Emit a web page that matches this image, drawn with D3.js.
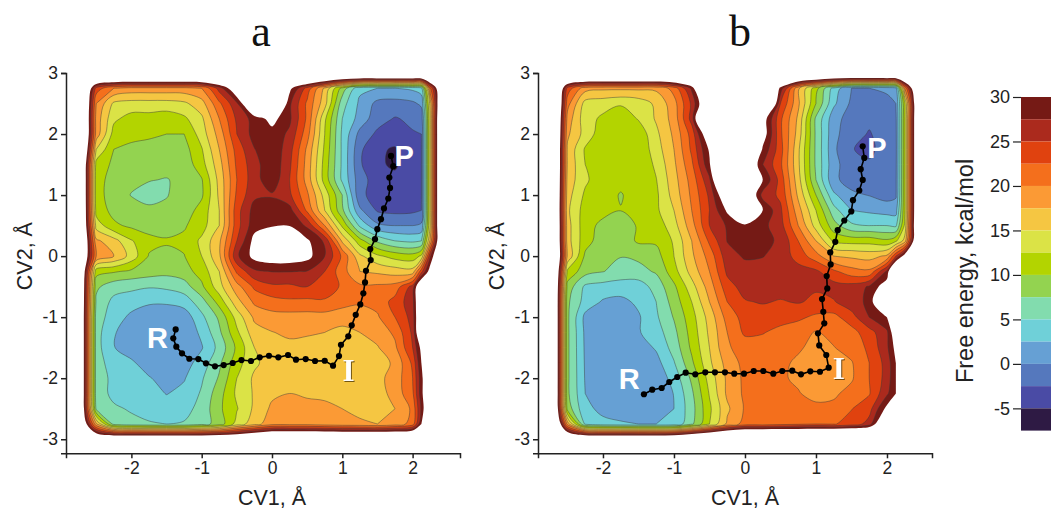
<!DOCTYPE html>
<html><head><meta charset="utf-8">
<script src="https://cdnjs.cloudflare.com/ajax/libs/d3/7.8.5/d3.min.js"></script>
<style>html,body{margin:0;padding:0;background:#fff}svg{display:block}</style></head>
<body><svg id="c" width="1051" height="512"></svg>
<script>
const cvx=[-2.75,-2.5,-2.25,-2,-1.75,-1.5,-1.25,-1,-.75,-.5,-.25,0,.25,.5,.75,1,1.25,1.5,1.75,2,2.125,2.25,2.5];
const cvy=[3,2.75,2.5,2.25,2,1.75,1.5,1.25,1,.75,.5,.25,0,-.25,-.5,-.75,-1,-1.25,-1.5,-1.75,-2,-2.25,-2.5,-2.75,-3];
const levels=[30,27.5,25,22.5,20,17.5,15,12.5,10,7.5,5,2.5,0,-2.5,-5];
const bandColors=["#751a15","#ab2a1d","#e0420f","#f46f1c","#fb9a35","#f5c642","#dbe346","#b3d400","#93d350","#82dcae","#6fd0d8","#66a0d4","#5578bd","#4a4ba5","#2e1a44"];
const energyTicks=[30,25,20,15,10,5,0,-5];
const cvTicksX=[-2,-1,0,1,2];
const cvTicksY=[-3,-2,-1,0,1,2,3];
const gridA=[
[45,45,45,45,45,45,45,45,45,45,45,45,45,45,45,45,45,45,45,45,45,45,45],
[45,24,20,19,19,19,19,20,26,34,45,45,31,24,17,9,3,2.5,2.5,3,4,22,45],
[45,20,14.5,14,14,14,14.5,16.5,22,27,37,40,28,22,16,6,2,-.7,-1,-.5,.5,16,50],
[45,19,13,11.5,11.5,11,12,14.5,20,25.5,28.5,31,28,22,13,5,1.5,-1.5,-2.7,-2,-1.5,15,53],
[45,19,11.5,11,10.5,10,10,13.7,18.5,25,28.5,29,27,21,12.5,4.5,-.8,-3,-4,-2.7,-2.5,15,53],
[45,15,10,9.2,9,9,9,12.3,17.5,23.5,27.4,29.5,26,19.5,12,4.5,-2,-4.7,-5.2,-2.8,-2.6,15,53],
[43,11.5,9.5,8.5,8.3,8.2,8.4,11.5,16.5,23,26.5,29.5,25.5,19,11.5,4.5,-2.2,-4.6,-5.4,-3,-2.6,15,53],
[43,11,9,8,7.6,7.4,8,9.8,15.8,22.5,26.5,29.2,25,19,11.5,4.5,-1.5,-3.7,-4.3,-3,-2.6,15,53],
[43,11,8.8,7.4,6.8,7.4,8.3,9.6,15.5,23,27,27.2,25.5,20.5,14,7.5,-2,-3.4,-3.8,-2.8,-2.6,15,53],
[43,11.5,9.2,8.5,7.9,7.9,8.6,11,15,24,28.5,29,28.5,22,15,8,.5,-2.8,-3.2,-3,-2.5,15,53],
[42,14,10.5,9.5,8.9,8.8,9.7,11.5,15,24,29,29.5,29.8,27,20,12,4.5,.5,0,0,.5,15,53],
[42,18,16,12.7,10.8,10.3,10.6,13,17,25,31,36,38,30.5,27,17,11,7,5,4.5,5,18,48],
[40,20,17.5,14,9.8,9.3,9.9,12.5,17,27,31,32,32,31,27.5,22,15.5,13,11.5,11,13,27,45],
[40,11,10.3,9.5,8.8,8.3,9,11,15,23,27,27.6,27.6,27.4,25,21,17.5,17,16.3,16,24,32,45],
[40,8,6,5.5,5.2,5.5,6.3,9.5,14,19,23,24.5,24.5,25,24.5,22,20.5,20.5,21,26,36,45,45],
[40,7,4.3,3.8,2.8,2.8,3.6,6.4,11,16.5,20.5,21.5,22,21.8,22,21,20.3,20.8,23.5,26.5,36,45,45],
[40,6,4,1.8,1.2,1,1,4.4,8,13.5,18,19,19,19,19,18.5,18.8,19.7,22.5,26,36,45,45],
[40,6,2.7,1.3,.9,.7,.8,3,7,12,16.5,17.4,18,17.8,17.5,16.8,17.5,18.5,20.5,25.5,36,45,45],
[40,6,2.6,1.3,.8,.7,.9,2.3,5.8,10.5,15,16.5,16.8,16.6,16.2,16,16.6,17.3,19.5,25,31,36,45],
[40,6,3.9,2.9,1.3,.8,1.4,3.6,7,11.5,14.5,16.2,16.1,16,16,16,16,16.2,18,23,30,36,45],
[40,6,4.5,4,2.7,1.5,2.3,4.7,7.8,12.5,15.5,16.2,16,16,16.2,16.1,16.2,16.8,18.5,22.5,29,36,45],
[40,6,4.5,4.2,3.5,2.4,3.2,5.3,9,13,15.3,17,17.5,17,16.5,16.2,16.5,16.3,18.5,22,29,36,45],
[40,7,5.3,4.8,4.2,3.7,4.2,5.8,9.5,12.3,15.5,18,18.4,18.6,18.6,17.5,17,17,17.5,20.5,28,36,45],
[40,18,6.5,5.5,5.2,5,5.2,6.5,8.5,13.5,16.5,19,19,19,18.5,18,17.8,17.5,18.5,21,30,40,45],
[45,38,38,38,38,38,38,38,38,38,40,42,42,42,42,42,42,42,42,42,43,45,45]];
const gridB=[
[45,45,45,45,45,45,45,45,45,45,45,45,45,45,45,45,45,45,45,45,45,45,45],
[48,24,18.5,18,18,18,18,21,28,45,45,45,45,29,18,11,4,0,0,.5,1.5,20,46],
[48,21,14,13.5,12.8,13.5,15.5,19,25.5,36,45,45,45,25,18,10,3,-.5,-1,-.8,0,12,46],
[48,19,13.5,12,10.8,12.7,15.3,18.5,26,45,45,45,32,23,17,7,1,-1.2,-2,-1.2,-.5,12,46],
[48,18,14,11,10.6,10.8,14.4,18,23.5,34,45,45,32,23,16.5,7,.7,-1.5,-2.7,-1.3,-.6,12,46],
[48,17,12.2,10.8,10.5,10.5,13.8,17.5,23,30.5,45,45,29.5,23.5,15.5,7,.5,-2.4,-3,-1.5,-.7,12,46],
[48,17,12.5,10.7,10.4,10.4,13,17,22,29.5,45,36,27.5,23,15.5,7,.8,-1.5,-2.2,-1.3,-.6,12,46],
[48,16.5,13,10.7,10.4,10.5,12.4,16.5,21,27,42,45,30,24,16,7.5,.5,-1,-1.2,-1,-.5,12,46],
[48,16,12,10.6,9.9,10.6,12,16,20.5,25.5,34,36,26.5,24.5,17,10,3,.5,-.1,-1,-.4,12,46],
[48,15.5,11.3,10.8,10.05,10.9,12,15,20,25,30.5,45,30,25.5,18.5,12.5,6,2.5,2,1.5,1.5,12,46],
[48,16,11,9.3,8.5,10.3,11,14,19,25,27.8,28.7,28.2,26,20,14,8.5,5.5,5,5,4.5,13,46],
[48,16,11,8.7,8.5,10.4,10.4,12.8,17.5,23,27.6,28.2,28,27.2,22.5,17.5,12,11.5,11.5,10.5,12,16,45],
[48,17,9.5,8,7.6,8,9,12.5,17,21,26.5,27.8,27.6,26.5,24,21,17.5,17,16.5,18,25,32,45],
[48,12,8.5,7.6,6.5,6.7,7.8,11.5,16,20,25.5,26.5,26.5,26.8,26,25.5,23,21,20.5,28,40,45,45],
[48,9,4.5,4,3.8,3.7,6,9.5,14,18.7,24,26,26,26,26,25.3,26,26,27.8,32,40,45,45],
[48,8,4,2.2,1.8,3,5,8.6,12.5,17.5,22.5,24.8,25.2,24.8,25.2,24.5,24.8,26.5,28,38,42,45,45],
[48,8,1.8,1.3,1,2.2,4.6,7.7,11.5,16,21,23.5,23.8,23.8,23,22,21.7,24,27.5,30,38,45,45],
[48,8,2,1.2,.8,2.3,3.8,6.8,11,15.5,20,23,22.7,21.5,21,19.8,20.7,21.5,24,27,33,45,45],
[48,8,2.1,1.2,.8,1.2,2.8,6,10.5,15,19.7,21,21,20.5,20.3,19.3,19.9,21,23,27,31,38,45],
[48,8,2.2,1.2,.7,.8,1.6,4.8,9.5,14.5,18.5,20.8,20.7,20.5,19.6,18.8,18.5,19.8,22.5,26,30,38,45],
[48,8,2.3,1.3,.7,.4,.7,3.5,8,13.5,18,20.6,20.5,20.4,19.5,18.8,18.5,19.7,22.5,26,30,38,45],
[48,8,2.5,1.6,1,.5,.5,2.6,7,12.7,18,20.5,20.6,20.5,20.2,19,19.6,20.8,22.3,27,30,38,45],
[48,9,3,2,1.7,.8,.6,2.5,6.5,12,17,20.3,20.4,20.6,20.8,20.8,20.6,22.4,24,31,40,45,45],
[48,19,4.5,3,2.7,2.5,2.5,3,7,12.5,18,21,21,21.5,22,22.5,22.3,23.5,26,38,45,45,45],
[48,40,39,39,39,39,39,40,42,44,46,47,47,47,47,47,47,47,47,45,45,45,45]];
const pathAx=[-1.37,-1.404,-1.361,-1.28,-1.176,-1.048,-.939,-.811,-.687,-.559,-.434,-.299,-.175,-.043,.09,.228,.341,.479,.612,.75,.868,.953,.981,1.085,1.134,1.191,1.256,1.299,1.323,1.337,1.404,1.398,1.465,1.498,1.55,1.593,1.654,1.679,1.669,1.725,1.693];
const pathAy=[-1.2,-1.347,-1.484,-1.592,-1.681,-1.686,-1.756,-1.805,-1.784,-1.751,-1.702,-1.718,-1.658,-1.632,-1.658,-1.62,-1.697,-1.686,-1.718,-1.714,-1.795,-1.637,-1.452,-1.314,-1.134,-.961,-.791,-.61,-.43,-.241,-.065,.115,.278,.442,.606,.781,.944,1.118,1.288,1.473,1.642];
const pathBx=[-1.423,-1.306,-1.173,-1.066,-.954,-.835,-.7,-.559,-.423,-.282,-.151,-.014,.123,.258,.399,.525,.666,.789,.92,1.056,1.179,1.145,1.046,1.028,1.117,1.103,1.085,1.159,1.151,1.207,1.201,1.272,1.306,1.399,1.497,1.521,1.61,1.658,1.63,1.68,1.658];
const pathBy=[-2.263,-2.188,-2.16,-2.062,-1.98,-1.91,-1.936,-1.903,-1.903,-1.903,-1.926,-1.926,-1.882,-1.882,-1.926,-1.882,-1.877,-1.936,-1.887,-1.894,-1.828,-1.62,-1.462,-1.265,-1.101,-.912,-.704,-.529,-.327,-.136,.061,.234,.426,.584,.732,.917,1.075,1.249,1.424,1.609,1.8];

const svg=d3.select("#c");
const FONT="'Liberation Sans',Arial,sans-serif";
const SERIF="'Liberation Serif','Times New Roman',serif";
const plain=d=>String(d);
const idxX=d3.scaleLinear().domain(d3.range(cvx.length)).range(cvx);
const idxY=d3.scaleLinear().domain(d3.range(cvy.length)).range(cvy);

function panel(o){
  const x=d3.scaleLinear().domain(o.xDom).range([o.left,o.right]);
  const y=d3.scaleLinear().domain([-3.23,3]).range([453.3,73]);
  const g=svg.append("g");
  const flat=o.grid.flat().map(v=>-v);
  const contours=d3.contours().size([cvx.length,cvy.length]).thresholds(levels.map(l=>-l))(flat);
  const line=d3.line().x(p=>x(idxX(p[0]-.5))).y(p=>y(idxY(p[1]-.5))).curve(d3.curveCatmullRomClosed.alpha(.5));
  contours.forEach((c,i)=>{
    let d="";
    c.coordinates.forEach(poly=>poly.forEach(ring=>{d+=line(ring.slice(0,-1));}));
    g.append("path").attr("d",d).attr("fill",bandColors[i]).attr("fill-rule","evenodd")
      .attr("stroke",i<1?"none":"#3a3a3a").attr("stroke-opacity",.65).attr("stroke-width",.7);
  });
  const pts=o.px.map((v,i)=>[v,o.py[i]]);
  g.append("path").attr("d",d3.line().x(p=>x(p[0])).y(p=>y(p[1]))(pts)).attr("fill","none").attr("stroke","#000").attr("stroke-width",1.6);
  g.selectAll("circle").data(pts).join("circle").attr("cx",p=>x(p[0])).attr("cy",p=>y(p[1])).attr("r",3.1).attr("fill","#000");
  const ax=g.append("g").attr("transform","translate(0,453.3)").call(d3.axisBottom(x).tickValues(cvTicksX).tickFormat(plain).tickSizeOuter(0).tickSize(5));
  const ay=g.append("g").attr("transform",`translate(${o.left},0)`).call(d3.axisLeft(y).tickValues(cvTicksY).tickFormat(plain).tickSizeOuter(0).tickSize(5));
  [ax,ay].forEach(a=>{a.selectAll("text").attr("font-family",FONT).attr("font-size",17.5).attr("fill","#222");a.selectAll("line,path").attr("stroke","#222").attr("stroke-width",1.5);});
  const lab=(t,px,py,size,fam,w,sh)=>g.append("text").text(t).attr("x",px).attr("y",py).attr("text-anchor","middle").attr("font-family",fam).attr("font-size",size).attr("font-weight",w).attr("fill","#fff").style("filter",sh?"drop-shadow(1px 1px 0.5px rgba(60,40,0,.7))":null);
  lab("R",x(o.rPos[0]),y(o.rPos[1]),29,FONT,"bold");
  lab("P",x(o.pPos[0]),y(o.pPos[1]),29,FONT,"bold");
  lab("I",x(o.iPos[0]),y(o.iPos[1]),31,SERIF,"bold",true);
  svg.append("text").text(o.title).attr("x",o.titleX).attr("y",46).attr("text-anchor","middle").attr("font-family",SERIF).attr("font-size",44).attr("fill","#111");
  svg.append("text").text("CV1, Å").attr("x",x(0)).attr("y",505).attr("text-anchor","middle").attr("font-family",FONT).attr("font-size",21.5).attr("fill","#222");
  svg.append("text").text("CV2, Å").attr("transform",`translate(${o.left-34},${y(0)}) rotate(-90)`).attr("text-anchor","middle").attr("font-family",FONT).attr("font-size",21.5).attr("fill","#222");
}
panel({grid:gridA,px:pathAx,py:pathAy,left:66,right:460,xDom:[-2.93,2.674],title:"a",titleX:261,rPos:[-1.63,-1.5],pPos:[1.88,1.47],iPos:[1.09,-2.04]});
panel({grid:gridB,px:pathBx,py:pathBy,left:538,right:932,xDom:[-2.915,2.634],title:"b",titleX:740,rPos:[-1.63,-2.17],pPos:[1.86,1.6],iPos:[1.32,-2.02]});

// colour bar
const cy=d3.scaleLinear().domain([-7.5,30]).range([430.6,97]);
levels.forEach((t,i)=>{
  svg.append("rect").attr("x",1021).attr("width",30).attr("y",cy(t)).attr("height",cy(t-2.5)-cy(t)).attr("fill",bandColors[i]);
});
const cax=svg.append("g").attr("transform","translate(1021,0)").call(d3.axisLeft(cy).tickValues(energyTicks).tickFormat(plain).tickSizeOuter(0).tickSize(8));
cax.select(".domain").remove();
cax.selectAll("text").attr("font-family",FONT).attr("font-size",18).attr("fill","#222");
cax.selectAll("line").attr("stroke","#222").attr("stroke-width",1.2);
svg.append("text").text("Free energy, kcal/mol").attr("transform","translate(973,271) rotate(-90)").attr("text-anchor","middle").attr("font-family",FONT).attr("font-size",23.5).attr("fill","#222");
</script></body></html>
